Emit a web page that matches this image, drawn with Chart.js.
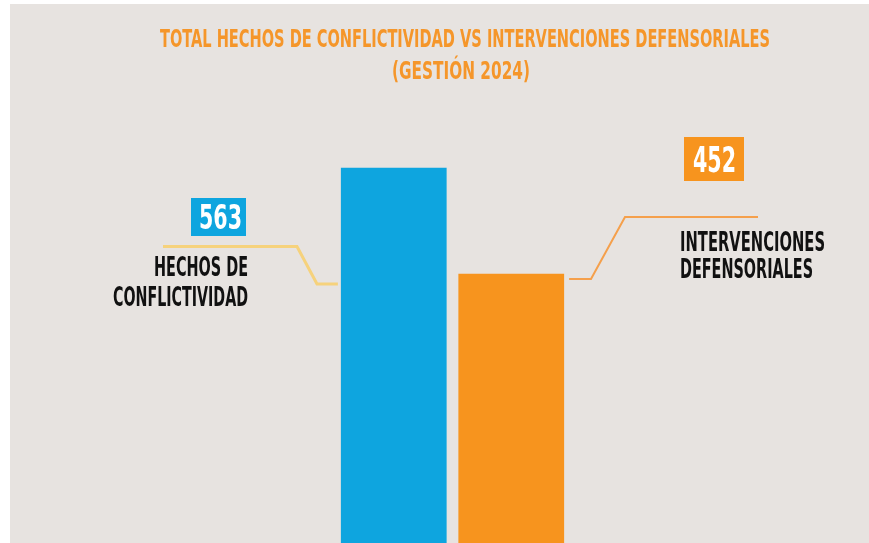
<!DOCTYPE html>
<html>
<head>
<meta charset="utf-8">
<script src="https://cdn.jsdelivr.net/npm/chart.js@4.4.1/dist/chart.umd.min.js"></script>
<style>
  body { margin: 0; background: #fff; }
  #c { display: block; }
</style>
</head>
<body>
<canvas id="c" width="869" height="543"></canvas>
<script>
// datos
const categories = ["HECHOS DE CONFLICTIVIDAD", "INTERVENCIONES DEFENSORIALES"]
const values = [563, 452]
const barColors = ["#0ea5df", "#f7941e"]
const labelLines = [["HECHOS DE", "CONFLICTIVIDAD"], ["INTERVENCIONES", "DEFENSORIALES"]]
const titleLines = ["TOTAL HECHOS DE CONFLICTIVIDAD VS INTERVENCIONES DEFENSORIALES", "(GESTIÓN 2024)"]

const FONT = '"Liberation Sans Narrow", "DejaVu Sans Condensed", "DejaVu Sans", sans-serif'

// texto ajustado a un ancho (la fuente original es muy condensada)
const fitText = (ctx, text, x, y, size, width, color, align)=>{
    ctx.save()
    ctx.font = `bold ${size}px ${FONT}`
    ctx.fillStyle = color
    ctx.textBaseline = "alphabetic"
    let w = ctx.measureText(text).width
    let sx = width / w
    let left = x
    if(align == "center") left = x - width/2
    if(align == "right") left = x - width
    ctx.translate(left, y)
    ctx.scale(sx, 1)
    ctx.textAlign = "left"
    ctx.fillText(text, 0, 0)
    ctx.restore()
}

const poly = (ctx, pts, color, lw)=>{
    ctx.save()
    ctx.strokeStyle = color
    ctx.lineWidth = lw
    ctx.lineJoin = "miter"
    ctx.beginPath()
    ctx.moveTo(pts[0][0], pts[0][1])
    for(let i = 1; i < pts.length; i++) ctx.lineTo(pts[i][0], pts[i][1])
    ctx.stroke()
    ctx.restore()
}

const decor = {
    id: "decor",
    beforeDraw(chart){
        const ctx = chart.ctx
        ctx.save()
        ctx.fillStyle = "#ffffff"
        ctx.fillRect(0, 0, chart.width, chart.height)
        ctx.fillStyle = "#e7e3e0"
        ctx.fillRect(10, 4, chart.width - 10, chart.height - 4)
        ctx.restore()
    },
    afterDraw(chart){
        const ctx = chart.ctx
        const bars = chart.getDatasetMeta(0).data

        // titulo
        fitText(ctx, titleLines[0], 465, 47, 25, 610, "#f5962a", "center")
        fitText(ctx, titleLines[1], 461, 79, 25, 138, "#f5962a", "center")

        // conectores
        let b0 = bars[0], b1 = bars[1]
        poly(ctx, [[163, 246.5], [297, 246.5], [317, 284], [b0.x - b0.width/2 - 3, 284]], "#f6d27c", 3)
        poly(ctx, [[b1.x + b1.width/2 + 5, 279], [591, 279], [625, 217], [758, 217]], "#f5a04c", 2)

        // cajas de valores
        ctx.fillStyle = barColors[0]
        ctx.fillRect(191, 198, 55, 38)
        fitText(ctx, String(values[0]), 220.5, 229, 33, 43, "#ffffff", "center")
        ctx.fillStyle = barColors[1]
        ctx.fillRect(684, 137, 60, 44)
        fitText(ctx, String(values[1]), 714.5, 172, 35, 43, "#ffffff", "center")

        // etiquetas
        fitText(ctx, labelLines[0][0], 248, 276, 26, 94, "#111111", "right")
        fitText(ctx, labelLines[0][1], 248, 306, 26, 135, "#111111", "right")
        fitText(ctx, labelLines[1][0], 680, 251, 26, 145, "#111111", "left")
        fitText(ctx, labelLines[1][1], 680, 278, 26, 133, "#111111", "left")
    }
}

const chart = new Chart(document.getElementById("c").getContext("2d"), {
    type: "bar",
    data: {
        labels: categories,
        datasets: [{
            data: values,
            backgroundColor: barColors,
            borderWidth: 0,
            barPercentage: 0.9,
            categoryPercentage: 1
        }]
    },
    options: {
        responsive: false,
        animation: false,
        layout: { padding: { left: 335, right: 299, top: 100, bottom: 0 } },
        plugins: { legend: { display: false }, tooltip: { enabled: false }, title: { display: false } },
        scales: {
            x: { display: false },
            y: { display: false, min: 170, max: 634 }
        }
    },
    plugins: [decor]
})
</script>
</body>
</html>
